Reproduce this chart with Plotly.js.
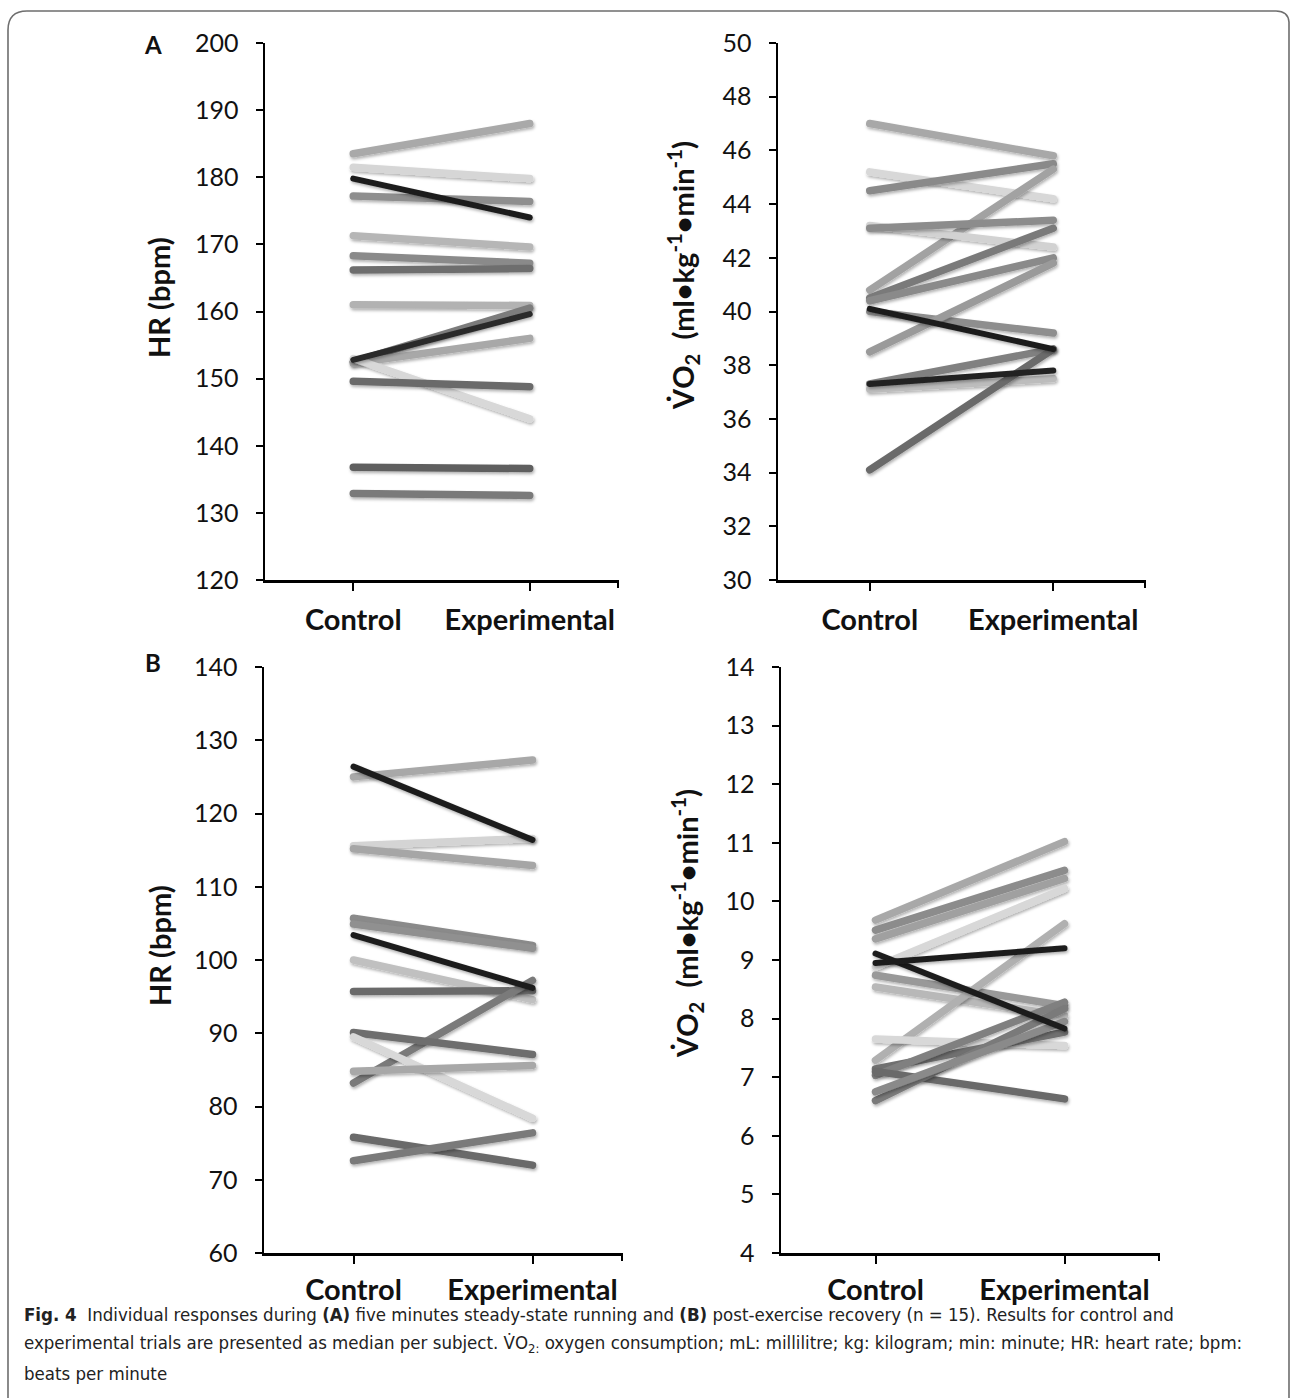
<!DOCTYPE html>
<html>
<head>
<meta charset="utf-8">
<script src="https://cdn.plot.ly/plotly-3.0.1.min.js"></script>
<style>
  html, body { margin: 0; padding: 0; background: #fff; }
  #chart { width: 1290px; height: 1398px; }
  .scatterlayer path.js-line { stroke-linecap: round !important; }
</style>
</head>
<body>
<div id="chart"></div>
<script>
// ---------- DATA ----------
const categories = ['Control', 'Experimental'];

// Panel A: five minutes steady-state running
const hrA_control      = [183.5, 181.5, 177.2, 171.3, 168.3, 166.2, 161.0, 152.5, 152.3, 153.0, 149.6, 136.8, 132.9, 179.8, 152.8];
const hrA_experimental = [188.0, 179.8, 176.4, 169.6, 167.2, 166.4, 160.9, 160.5, 156.0, 144.0, 148.8, 136.6, 132.6, 174.0, 159.6];

const vo2A_control      = [47.0, 45.2, 44.5, 40.8, 43.2, 43.1, 40.5, 40.4, 40.0, 38.5, 37.3, 37.1, 34.1, 40.1, 37.3];
const vo2A_experimental = [45.8, 44.2, 45.5, 45.3, 42.4, 43.4, 43.1, 42.0, 39.2, 41.8, 38.6, 37.5, 38.6, 38.6, 37.8];

// Panel B: post-exercise recovery
const hrB_control      = [125.0, 115.6, 115.2, 105.7, 104.9, 100.0, 95.7, 83.2, 90.1, 89.5, 84.8, 75.8, 72.6, 126.4, 103.4];
const hrB_experimental = [127.3, 116.6, 112.9, 102.0, 101.6, 94.6, 95.8, 97.2, 87.1, 78.4, 85.6, 72.0, 76.4, 116.4, 96.2];

const vo2B_control      = [9.68, 9.51, 9.36, 8.88, 8.74, 8.54, 7.29, 7.65, 7.14, 7.03, 7.10, 6.60, 6.75, 9.11, 8.95];
const vo2B_experimental = [11.02, 10.53, 10.39, 10.22, 8.22, 8.05, 9.62, 7.54, 7.77, 8.28, 6.63, 8.17, 7.95, 7.83, 9.20];

// Tick values
const hrA_ticks  = [120, 130, 140, 150, 160, 170, 180, 190, 200];
const vo2A_ticks = [30, 32, 34, 36, 38, 40, 42, 44, 46, 48, 50];
const hrB_ticks  = [60, 70, 80, 90, 100, 110, 120, 130, 140];
const vo2B_ticks = [4, 5, 6, 7, 8, 9, 10, 11, 12, 13, 14];

// ---------- STYLES ----------
const hrA_colors  = ['#a9a9a9','#d6d6d6','#8e8e8e','#b6b6b6','#8a8a8a','#6e6e6e','#b2b2b2','#7c7c7c','#a8a8a8','#d8d8d8','#6a6a6a','#5e5e5e','#7a7a7a','#1e1e1e','#2a2a2a'];
const vo2A_colors = ['#a8a8a8','#d8d8d8','#8a8a8a','#a2a2a2','#d2d2d2','#8c8c8c','#7a7a7a','#8a8a8a','#8e8e8e','#9a9a9a','#808080','#bcbcbc','#6a6a6a','#1e1e1e','#222222'];
const hrB_colors  = ['#a8a8a8','#d4d4d4','#a6a6a6','#8a8a8a','#909090','#c0c0c0','#6a6a6a','#7a7a7a','#6e6e6e','#d8d8d8','#a8a8a8','#6a6a6a','#7a7a7a','#1e1e1e','#1e1e1e'];
const vo2B_colors = ['#a8a8a8','#8c8c8c','#a0a0a0','#d8d8d8','#999999','#b8b8b8','#b0b0b0','#d8d8d8','#707070','#808080','#6a6a6a','#7a7a7a','#8a8a8a','#1e1e1e','#1e1e1e'];
const darkShades = ['#1e1e1e', '#222222', '#2a2a2a'];

const W = 1290, H = 1398;
const px = v => v / W;
const py = v => 1 - v / H;

function panelTraces(ctrl, exp, colors, xa, ya) {
  return ctrl.map((c, i) => ({
    type: 'scatter', mode: 'lines',
    x: categories, y: [c, exp[i]],
    xaxis: xa, yaxis: ya,
    line: { color: colors[i], width: darkShades.includes(colors[i]) ? 6 : 7.5 },
    hoverinfo: 'skip', showlegend: false
  }));
}

const data = [
  ...panelTraces(hrA_control,  hrA_experimental,  hrA_colors,  'x',  'y'),
  ...panelTraces(vo2A_control, vo2A_experimental, vo2A_colors, 'x2', 'y2'),
  ...panelTraces(hrB_control,  hrB_experimental,  hrB_colors,  'x3', 'y3'),
  ...panelTraces(vo2B_control, vo2B_experimental, vo2B_colors, 'x4', 'y4'),
];

const tickFont = { family: 'Lato, "Open Sans", sans-serif', size: 25, color: '#111' };
const catFont  = { family: 'Lato, "Open Sans", sans-serif', size: 29, color: '#111', weight: 'bold' };

function xAxis(dom, anchor, standoff) {
  return {
    domain: dom, anchor: anchor, type: 'category',
    range: [-0.5, 1.5], showgrid: false, zeroline: false,
    showline: true, linecolor: '#000', linewidth: 2.5,
    ticks: 'outside', ticklen: 8, tickwidth: 2, tickcolor: '#000',
    tickfont: catFont, ticklabelstandoff: standoff, fixedrange: true
  };
}
function yAxis(dom, anchor, range, ticks) {
  return {
    domain: dom, anchor: anchor, range: range,
    tickvals: ticks, showgrid: false, zeroline: false,
    showline: true, linecolor: '#000', linewidth: 2.5,
    ticks: 'outside', ticklen: 7, tickwidth: 2, tickcolor: '#000',
    tickfont: tickFont, ticklabelstandoff: 12, fixedrange: true
  };
}

const domYA = [py(580), py(43)];
const domYB = [py(1253), py(667)];

const titleFont = { family: 'Lato, "Open Sans", sans-serif', size: 29, color: '#111', weight: 'bold' };
const capFont = { family: '"Liberation Sans Narrow", "DejaVu Sans Condensed", "Liberation Sans", sans-serif', size: 18.5, color: '#222' };

const vo2Title = 'V\u0307O<sub>2</sub>  (ml\u2022kg<sup>-1</sup>\u2022min<sup>-1</sup>)';

function ann(text, x, y, font, extra) {
  return Object.assign({ text: text, x: px(x), y: py(y), xref: 'paper', yref: 'paper',
    xanchor: 'center', yanchor: 'middle', showarrow: false, font: font }, extra || {});
}

const annotations = [
  ann('<b>A</b>', 153, 45, { family: 'Lato, sans-serif', size: 24, color: '#111' }),
  ann('<b>B</b>', 153, 663, { family: 'Lato, sans-serif', size: 24, color: '#111' }),
  ann('HR (bpm)', 159, 298, titleFont, { textangle: -90 }),
  ann(vo2Title, 683, 276, titleFont, { textangle: -90 }),
  ann('HR (bpm)', 159, 946, titleFont, { textangle: -90 }),
  ann(vo2Title, 687, 924, titleFont, { textangle: -90 }),
  ann('<b>Fig. 4</b>  Individual responses during <b>(A)</b> five minutes steady-state running and <b>(B)</b> post-exercise recovery (n = 15). Results for control and',
    22, 1314, capFont, { xanchor: 'left' }),
  ann('experimental trials are presented as median per subject. V\u0307O<sub>2:</sub> oxygen consumption; mL: millilitre; kg: kilogram; min: minute; HR: heart rate; bpm:',
    22, 1344, capFont, { xanchor: 'left' }),
  ann('beats per minute', 22, 1373, capFont, { xanchor: 'left' }),
];

// frame (rounded border) and end ticks on category axes
const fx = v => (v / W).toFixed(5), fy = v => (1 - v / H).toFixed(5);
const framePath = `M ${fx(8)} ${fy(1398)} L ${fx(8)} ${fy(30)} Q ${fx(8)} ${fy(11)} ${fx(27)} ${fy(11)} L ${fx(1276)} ${fy(11)} Q ${fx(1288)} ${fy(11)} ${fx(1289)} ${fy(22)} L ${fx(1289)} ${fy(1398)}`;

const shapes = [
  { type: 'path', xref: 'paper', yref: 'paper', path: framePath, line: { color: '#6e6e6e', width: 1.6 } },
];
['x', 'x2', 'x3', 'x4'].forEach((xa, i) => {
  const ya = ['y', 'y2', 'y3', 'y4'][i];
  shapes.push({ type: 'line', xref: xa + ' domain', yref: ya + ' domain', x0: 1, x1: 1,
    ysizemode: 'pixel', yanchor: 0, y0: 0, y1: -8, line: { color: '#000', width: 2 } });
});

const layout = {
  width: W, height: H,
  margin: { l: 0, r: 0, t: 0, b: 0 },
  paper_bgcolor: '#fff', plot_bgcolor: 'rgba(0,0,0,0)',
  showlegend: false,
  xaxis:  xAxis([px(265), px(618)], 'y', 5),
  yaxis:  yAxis(domYA, 'x', [120, 200], hrA_ticks),
  xaxis2: xAxis([px(778), px(1145)], 'y2', 5),
  yaxis2: yAxis(domYA, 'x2', [30, 50], vo2A_ticks),
  xaxis3: xAxis([px(264), px(622)], 'y3', 2),
  yaxis3: yAxis(domYB, 'x3', [60, 140], hrB_ticks),
  xaxis4: xAxis([px(781), px(1159)], 'y4', 2),
  yaxis4: yAxis(domYB, 'x4', [4, 14], vo2B_ticks),
  annotations: annotations,
  shapes: shapes
};

Plotly.newPlot('chart', data, layout, { staticPlot: true, displayModeBar: false }).then(gd => {
  const svg = gd.querySelector('svg.main-svg');
  const ns = 'http://www.w3.org/2000/svg';
  let defs = svg.querySelector('defs');
  if (!defs) { defs = document.createElementNS(ns, 'defs'); svg.insertBefore(defs, svg.firstChild); }
  const f = document.createElementNS(ns, 'filter');
  f.setAttribute('id', 'softShadow');
  f.setAttribute('filterUnits', 'userSpaceOnUse');
  f.setAttribute('x', '-3000'); f.setAttribute('y', '-3000');
  f.setAttribute('width', '6000'); f.setAttribute('height', '6000');
  const ds = document.createElementNS(ns, 'feDropShadow');
  ds.setAttribute('dx', '1'); ds.setAttribute('dy', '2');
  ds.setAttribute('stdDeviation', '1.6');
  ds.setAttribute('flood-color', '#000'); ds.setAttribute('flood-opacity', '0.3');
  f.appendChild(ds);
  defs.appendChild(f);
  gd.querySelectorAll('.scatterlayer path.js-line').forEach(p => p.setAttribute('filter', 'url(#softShadow)'));
});
</script>
</body>
</html>
